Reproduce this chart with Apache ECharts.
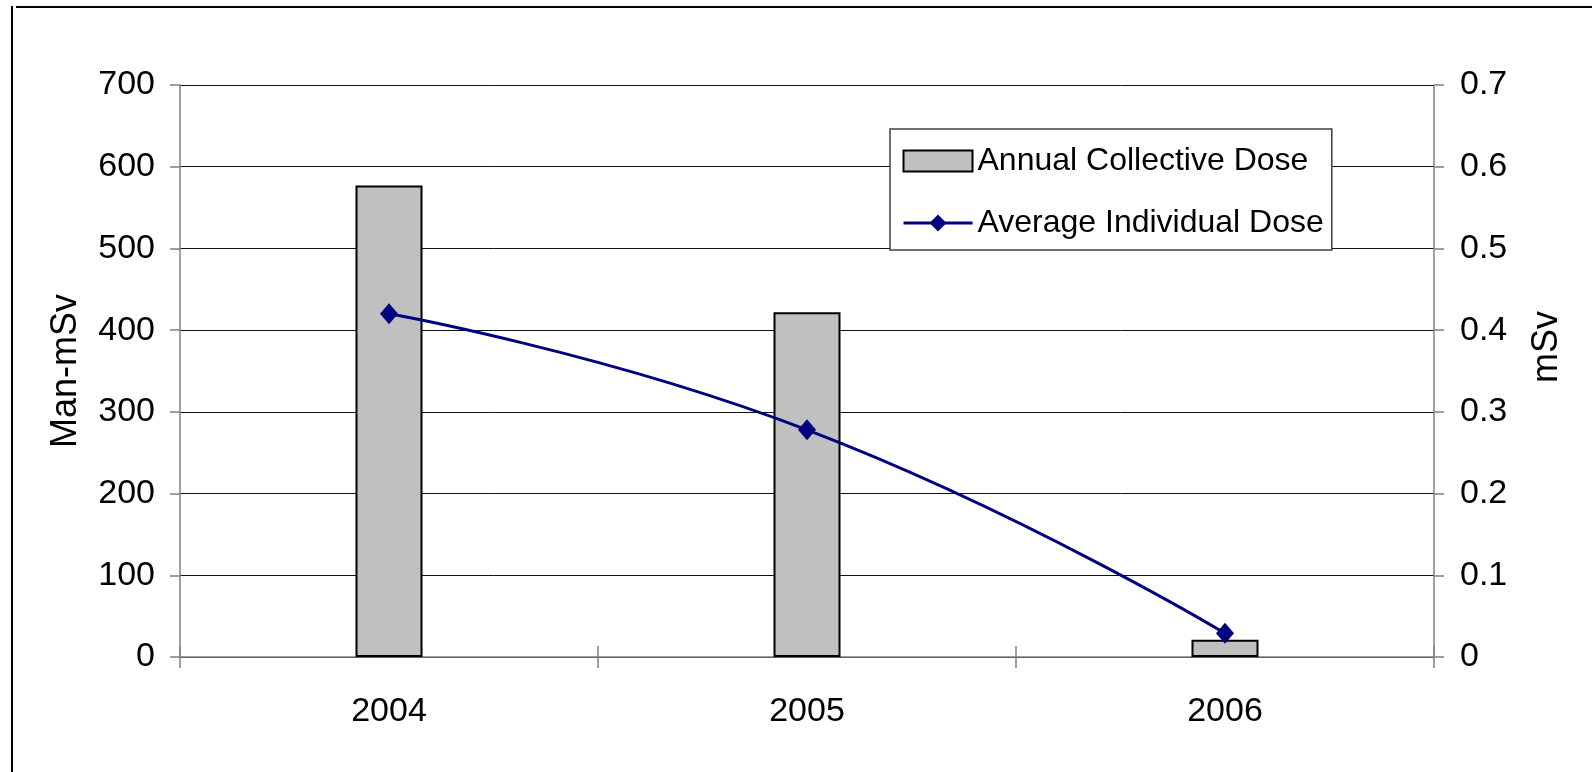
<!DOCTYPE html>
<html>
<head>
<meta charset="utf-8">
<script src="https://cdn.jsdelivr.net/npm/echarts@6/dist/echarts.min.js"></script>
<style>
  html, body { margin: 0; padding: 0; background: #fff; }
  #chart { width: 1592px; height: 772px; }
</style>
</head>
<body>
<div id="chart"></div>
<script>
// Occupational dose by year
const years = ['2004', '2005', '2006'];
const collectiveDose = [577, 422, 21];        // Man-mSv (left axis)
const averageDose = [0.42, 0.278, 0.029];     // mSv (right axis)
const leftTicks = { min: 0, max: 700, interval: 100 };
const rightTicks = { min: 0, max: 0.7, interval: 0.1 };

const FONT = "'Liberation Sans Narrow', 'Liberation Sans', Arial, sans-serif";
const NAVY = '#000080';

const chart = echarts.init(document.getElementById('chart'), null, { renderer: 'canvas' });

chart.setOption({
  backgroundColor: '#ffffff',
  animation: false,
  textStyle: { fontFamily: FONT, color: '#000' },
  grid: { left: 180, right: 158, top: 85, bottom: 115, containLabel: false },
  legend: {
    orient: 'vertical',
    left: 890,
    top: 129,
    padding: [16, 8, 11, 12],
    itemGap: 30,
    itemWidth: 69,
    itemHeight: 21,
    selectedMode: false,
    backgroundColor: '#fff',
    borderColor: '#404040',
    borderWidth: 1.5,
    textStyle: { fontFamily: FONT, fontSize: 32, color: '#000' },
    data: [
      { name: 'Annual Collective Dose', icon: 'rect' },
      { name: 'Average Individual Dose', lineStyle: { width: 3, color: NAVY } }
    ]
  },
  xAxis: [
    {
      type: 'category',
      data: years,
      boundaryGap: true,
      axisLine: { lineStyle: { color: '#808080', width: 1.5 } },
      axisTick: { show: true, alignWithLabel: false, length: 11, lineStyle: { color: '#808080', width: 1.5 } },
      axisLabel: { fontFamily: FONT, fontSize: 34, color: '#000', margin: 38 },
      splitLine: { show: false }
    },
    {
      type: 'category',
      data: years,
      position: 'bottom',
      boundaryGap: true,
      axisLine: { show: false },
      axisTick: { show: true, inside: true, length: 11, lineStyle: { color: '#808080', width: 1.5 } },
      axisLabel: { show: false },
      splitLine: { show: false }
    }
  ],
  yAxis: [
    {
      type: 'value',
      min: leftTicks.min,
      max: leftTicks.max,
      interval: leftTicks.interval,
      name: 'Man-mSv',
      nameLocation: 'middle',
      nameRotate: 90,
      nameGap: 96,
      nameTextStyle: { fontFamily: FONT, fontSize: 36, color: '#000' },
      axisLine: { show: true, lineStyle: { color: '#808080', width: 1.5 } },
      axisTick: { show: true, length: 10, lineStyle: { color: '#808080', width: 1.5 } },
      axisLabel: { fontFamily: FONT, fontSize: 34, color: '#000', margin: 25 },
      splitLine: { show: true, lineStyle: { color: '#111', width: 1 } }
    },
    {
      type: 'value',
      min: rightTicks.min,
      max: rightTicks.max,
      interval: rightTicks.interval,
      name: 'mSv',
      nameLocation: 'middle',
      nameRotate: 90,
      nameGap: 95,
      nameTextStyle: { fontFamily: FONT, fontSize: 36, color: '#000', padding: [0, 0, 0, 48] },
      position: 'right',
      axisLine: { show: true, lineStyle: { color: '#808080', width: 1.5 } },
      axisTick: { show: true, length: 10, lineStyle: { color: '#808080', width: 1.5 } },
      axisLabel: { fontFamily: FONT, fontSize: 34, color: '#000', margin: 26,
        formatter: v => (v === 0 ? '0' : v.toFixed(1)) },
      splitLine: { show: false }
    }
  ],
  series: [
    {
      name: 'Annual Collective Dose',
      type: 'bar',
      xAxisIndex: 0,
      yAxisIndex: 0,
      data: collectiveDose,
      barWidth: 67,
      itemStyle: { color: '#c0c0c0', borderColor: '#000', borderWidth: 2 },
      z: 2
    },
    {
      name: 'Average Individual Dose',
      type: 'line',
      xAxisIndex: 0,
      yAxisIndex: 1,
      data: averageDose,
      smooth: 0.5,
      symbol: 'diamond',
      symbolSize: [18, 21],
      lineStyle: { color: NAVY, width: 3 },
      itemStyle: { color: NAVY },
      z: 3
    }
  ],
  graphic: [
    { type: 'line', shape: { x1: 12, y1: 6, x2: 12, y2: 772 }, style: { stroke: '#000', lineWidth: 2 }, silent: true },
    { type: 'line', shape: { x1: 16, y1: 7, x2: 1592, y2: 7 }, style: { stroke: '#000', lineWidth: 2 }, silent: true }
  ]
});
</script>
</body>
</html>
